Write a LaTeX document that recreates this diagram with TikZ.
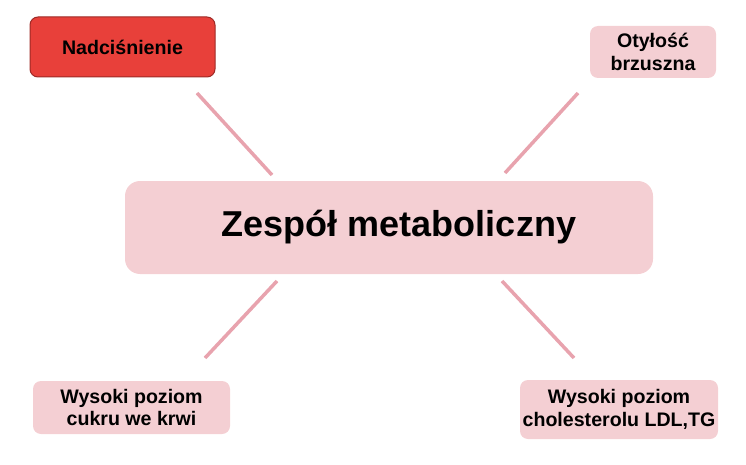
\documentclass[tikz,border=0pt]{standalone}
\usepackage{fontspec}
\setmainfont{Liberation Sans}
\definecolor{redfill}{HTML}{E8403A}
\definecolor{redline}{HTML}{9E2A26}
\definecolor{pinkfill}{HTML}{F4CFD3}
\definecolor{linkcol}{HTML}{E8A3AE}
\begin{document}
\begin{tikzpicture}[x=1pt,y=-1pt,
  box/.style={rectangle, rounded corners=8pt, fill=pinkfill, align=center, inner sep=0pt,
    font=\fontsize{19.6}{22.5}\selectfont\bfseries},
  redbox/.style={box, fill=redfill, draw=redline, line width=1pt},
  bigbox/.style={box, rounded corners=15pt, font=\fontsize{36}{40}\selectfont\bfseries},
  link/.style={draw=linkcol, line width=3.5pt}]
\useasboundingbox (0,0) rectangle (746,465);
\node[redbox, minimum width=185pt, minimum height=60pt] (nad) at (122.5,47) {Nadciśnienie};
\node[box, minimum width=126pt, minimum height=52pt] (oty) at (653,52) {Otyłość\\brzuszna};
\node[bigbox, minimum width=528pt, minimum height=93pt] (cen) at (389,227.5) {\hspace*{20pt}Zespół metaboliczny};
\node[box, minimum width=197pt, minimum height=53pt] (bl) at (131.5,407.5) {Wysoki poziom\\cukru we krwi};
\node[box, minimum width=198pt, minimum height=59pt] (br) at (619,409.5) {Wysoki poziom\\cholesterolu LDL,TG};
\coordinate (a1) at (197,93); \coordinate (a2) at (272,175);
\coordinate (b1) at (578,93); \coordinate (b2) at (505,173);
\coordinate (c1) at (277,281); \coordinate (c2) at (205,358);
\coordinate (d1) at (502,281); \coordinate (d2) at (574,358);
\draw[link] (a1) -- (a2);
\draw[link] (b1) -- (b2);
\draw[link] (c1) -- (c2);
\draw[link] (d1) -- (d2);
\end{tikzpicture}
\end{document}
